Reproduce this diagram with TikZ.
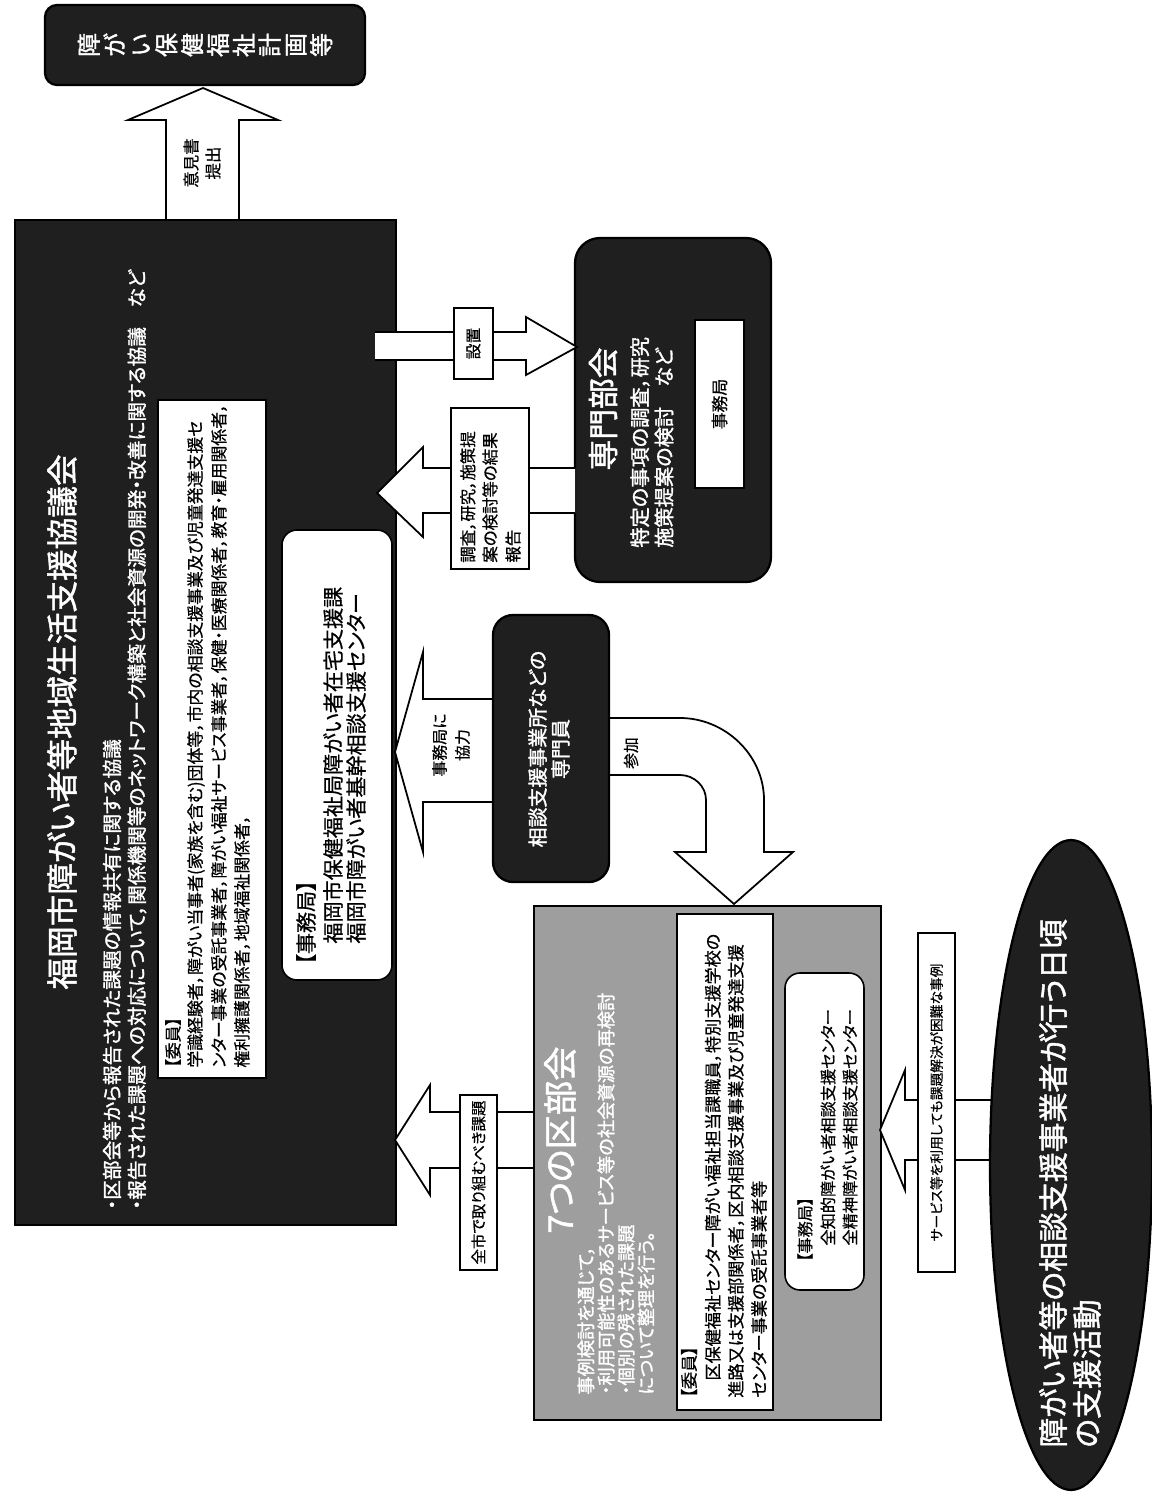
\documentclass[tikz,border=0pt]{standalone}
\usepackage{fontspec}
\setmainfont{Noto Sans CJK JP}[RawFeature=+palt,FakeBold=0.6]
\newfontfamily\jpb{Noto Sans CJK JP}[FakeBold=1.5,RawFeature=+palt]
\usetikzlibrary{fit,shapes.geometric}
\newcommand\fs[2]{\fontsize{#1}{#2}\selectfont}
\begin{document}
\begin{tikzpicture}[x=0.02cm,y=-0.02cm,
  darkbox/.style={draw=black, line width=1.3pt, fill=black!88, inner sep=0pt},
  whitebox/.style={draw=black, line width=0.9pt, fill=white, inner sep=0pt},
  graybox/.style={draw=black, line width=1.3pt, fill=black!38, inner sep=0pt},
  barrow/.style={draw=black, line width=1pt, fill=white, line join=miter},
  wt/.style={text=white, rotate=90, inner sep=0pt},
  bt/.style={text=black, rotate=90, inner sep=0pt},
]
\useasboundingbox (0,0) rectangle (1152,1500);
\fill[white] (0,0) rectangle (1152,1500);

% ---------- top box ----------
\node[darkbox, rounded corners=0.24cm, fit={(45,5) (365,85)}] (plan) {};
\node[wt, align=center, font={\jpb\fs{13.6}{14.7}}] (plantxt) at (plan.center)
  {障\\が\\い\\保\\健\\福\\祉\\計\\画\\等};

% ---------- main council box ----------
\node[darkbox, fit={(15,220) (396,1225)}] (council) {};

% up arrow
\draw[barrow] (166,220) -- (166,120) -- (128,120) -- (203,88) -- (278,120) -- (239,120) -- (239,220) -- cycle;
\node[bt, align=center, font={\fs{9.35}{12.5}}] (optxt) at (202,163) {意見書\\提出};

\node[wt, font={\jpb\fs{18}{19}}] (ctitle) at (62,722) {福岡市障がい者等地域生活支援協議会};
\node[wt, anchor=west, font={\jpb\fs{11.2}{12}}] (csub1) at (112,1210) {・区部会等から報告された課題の情報共有に関する協議};
\node[wt, anchor=west, font={\jpb\fs{11.2}{12}}] (csub2) at (137,1210) {・報告された課題への対応について，関係機関等のネットワーク構築と社会資源の開発・改善に関する協議　など};

% members box
\node[whitebox, fit={(158,400) (266,1078)}] (cmem) {};
\node[bt, anchor=west, font={\fs{9.6}{10}}] (cm0) at (173,1068) {【委員】};
\node[bt, anchor=west, font={\fs{9.6}{10}}] (cm1) at (196,1068) {学識経験者，障がい当事者(家族を含む)団体等，市内の相談支援事業及び児童発達支援セ};
\node[bt, anchor=west, font={\fs{9.6}{10}}] (cm2) at (219,1068) {ンター事業の受託事業者，障がい福祉サービス事業者，保健・医療関係者，教育・雇用関係者，};
\node[bt, anchor=west, font={\fs{9.6}{10}}] (cm3) at (242,1068) {権利擁護関係者，地域福祉関係者，};

% secretariat box
\node[whitebox, rounded corners=0.3cm, fit={(282,530) (392,980)}] (csec) {};
\node[bt, anchor=west, font={\fs{12}{13}}] (cs0) at (306,965) {【事務局】};
\node[bt, anchor=west, font={\fs{12}{13}}] (cs1) at (333,965) {　福岡市保健福祉局障がい者在宅支援課};
\node[bt, anchor=west, font={\fs{12}{13}}] (cs2) at (356,965) {　福岡市障がい者基幹相談支援センター};

% ---------- specialist subcommittee ----------
\node[darkbox, rounded corners=0.5cm, fit={(575,238) (771,582)}] (sen) {};
\node[wt, font={\jpb\fs{17.5}{18}}] (sentitle) at (603,409) {専門部会};
\node[wt, anchor=west, font={\jpb\fs{11.5}{12}}] (sen1) at (640,548) {特定の事項の調査，研究};
\node[wt, anchor=west, font={\jpb\fs{11.5}{12}}] (sen2) at (664,548) {施策提案の検討　など};
\node[whitebox, fit={(695,320) (744,488)}] (sensec) {};
\node[bt, font={\fs{9.6}{10}}] (sensectxt) at (sensec.center) {事務局};

% arrow: set up
\draw[barrow] (375,332) -- (526,332) -- (526,317) -- (577,347) -- (526,375) -- (526,360) -- (375,360);
\node[whitebox, fit={(454,308) (493,379)}] (setlab) {};
\node[bt, font={\fs{9}{10}}] (settxt) at (setlab.center) {設置};

% arrow: report
\draw[barrow] (575,468) -- (423,468) -- (423,447) -- (377,493) -- (423,537) -- (423,513) -- (575,513);
\node[whitebox, fit={(451,408) (529,569)}] (replab) {};
\node[bt, anchor=west, font={\fs{9.35}{10}}] (rep1) at (468,563) {調査，研究，施策提};
\node[bt, anchor=west, font={\fs{9.35}{10}}] (rep2) at (490,563) {案の検討等の結果};
\node[bt, anchor=west, font={\fs{9.35}{10}}] (rep3) at (513,563) {報告};

% ---------- consultation staff box ----------
\draw[barrow] (493,699) -- (423,699) -- (423,652) -- (395,752) -- (423,852) -- (423,802) -- (493,802);
\node[bt, align=center, font={\fs{9.07}{13}}] (coop) at (451,745) {事務局に\\協力};
\draw[barrow] (609,718) -- (680,718) .. controls (725,718) and (764,755) .. (764,800) -- (764,852) -- (793,852) -- (734,904) -- (675,852) -- (706,852) -- (706,800) .. controls (706,786) and (694,775) .. (680,775) -- (609,775);
\node[bt, font={\fs{9}{10}}] (join) at (631,753) {参加};
\node[darkbox, rounded corners=0.4cm, fit={(493,615) (609,882)}] (sod) {};
\node[wt, align=center, font={\jpb\fs{11.34}{13}}] (sodtxt) at (549,749) {相談支援事業所などの\\専門員};

% ---------- ward subcommittees ----------
\draw[barrow] (534,1112) -- (430,1112) -- (430,1085) -- (395,1140) -- (430,1195) -- (430,1168) -- (534,1168);
\node[whitebox, fit={(460,1095) (497,1270)}] (citylab) {};
\node[bt, font={\fs{8.8}{10}}] (citytxt) at (citylab.center) {全市で取り組むべき課題};

\node[graybox, fit={(534,906) (881,1420)}] (ku) {};
\node[wt, font={\jpb\fs{19.5}{20}}] (kutitle) at (560,1140) {7つの区部会};
\node[wt, anchor=west, font={\jpb\fs{10.4}{11}}] (ku1) at (586,1395) {事例検討を通じて，};
\node[wt, anchor=west, font={\jpb\fs{10.4}{11}}] (ku2) at (606,1395) {・利用可能性のあるサービス等の社会資源の再検討};
\node[wt, anchor=west, font={\jpb\fs{10.4}{11}}] (ku3) at (626,1395) {・個別の残された課題};
\node[wt, anchor=west, font={\jpb\fs{10.4}{11}}] (ku4) at (646,1395) {について整理を行う。};

\node[whitebox, fit={(677,914) (773,1410)}] (kumem) {};
\node[bt, anchor=west, font={\fs{9.75}{10}}] (km0) at (689,1398) {【委員】};
\node[bt, anchor=west, font={\fs{9.75}{10}}] (km1) at (713,1398) {　区保健福祉センター障がい福祉担当課職員，特別支援学校の};
\node[bt, anchor=west, font={\fs{9.75}{10}}] (km2) at (736,1398) {進路又は支援部関係者，区内相談支援事業及び児童発達支援};
\node[bt, anchor=west, font={\fs{9.75}{10}}] (km3) at (759,1398) {センター事業の受託事業者等};

\node[whitebox, rounded corners=0.3cm, fit={(785,973) (864,1290)}] (kusec) {};
\node[bt, anchor=west, font={\fs{9.2}{10}}] (ks0) at (805,1262) {【事務局】};
\node[bt, anchor=west, font={\fs{9.2}{10}}] (ks1) at (828,1262) {　全知的障がい者相談支援センター};
\node[bt, anchor=west, font={\fs{9.2}{10}}] (ks2) at (850,1262) {　全精神障がい者相談支援センター};

% ---------- daily activities ----------
\draw[barrow] (1000,1100) -- (905,1100) -- (905,1070) -- (880,1130) -- (905,1190) -- (905,1160) -- (1000,1160);
\node[whitebox, fit={(918,933) (955,1272)}] (svclab) {};
\node[bt, font={\fs{7.8}{9}}] (svctxt) at (svclab.center) {サービス等を利用しても課題解決が困難な事例};

\node[ellipse, draw=black, line width=1.3pt, fill=black!88, minimum width=3.24cm, minimum height=13cm, inner sep=0pt] (ell) at (1071,1165) {};
\node[wt, anchor=west, font={\jpb\fs{17}{18}}] (ell1) at (1053,1448) {障がい者等の相談支援事業者が行う日頃};
\node[wt, anchor=west, font={\jpb\fs{17}{18}}] (ell2) at (1087,1448) {の支援活動};
\end{tikzpicture}
\end{document}
